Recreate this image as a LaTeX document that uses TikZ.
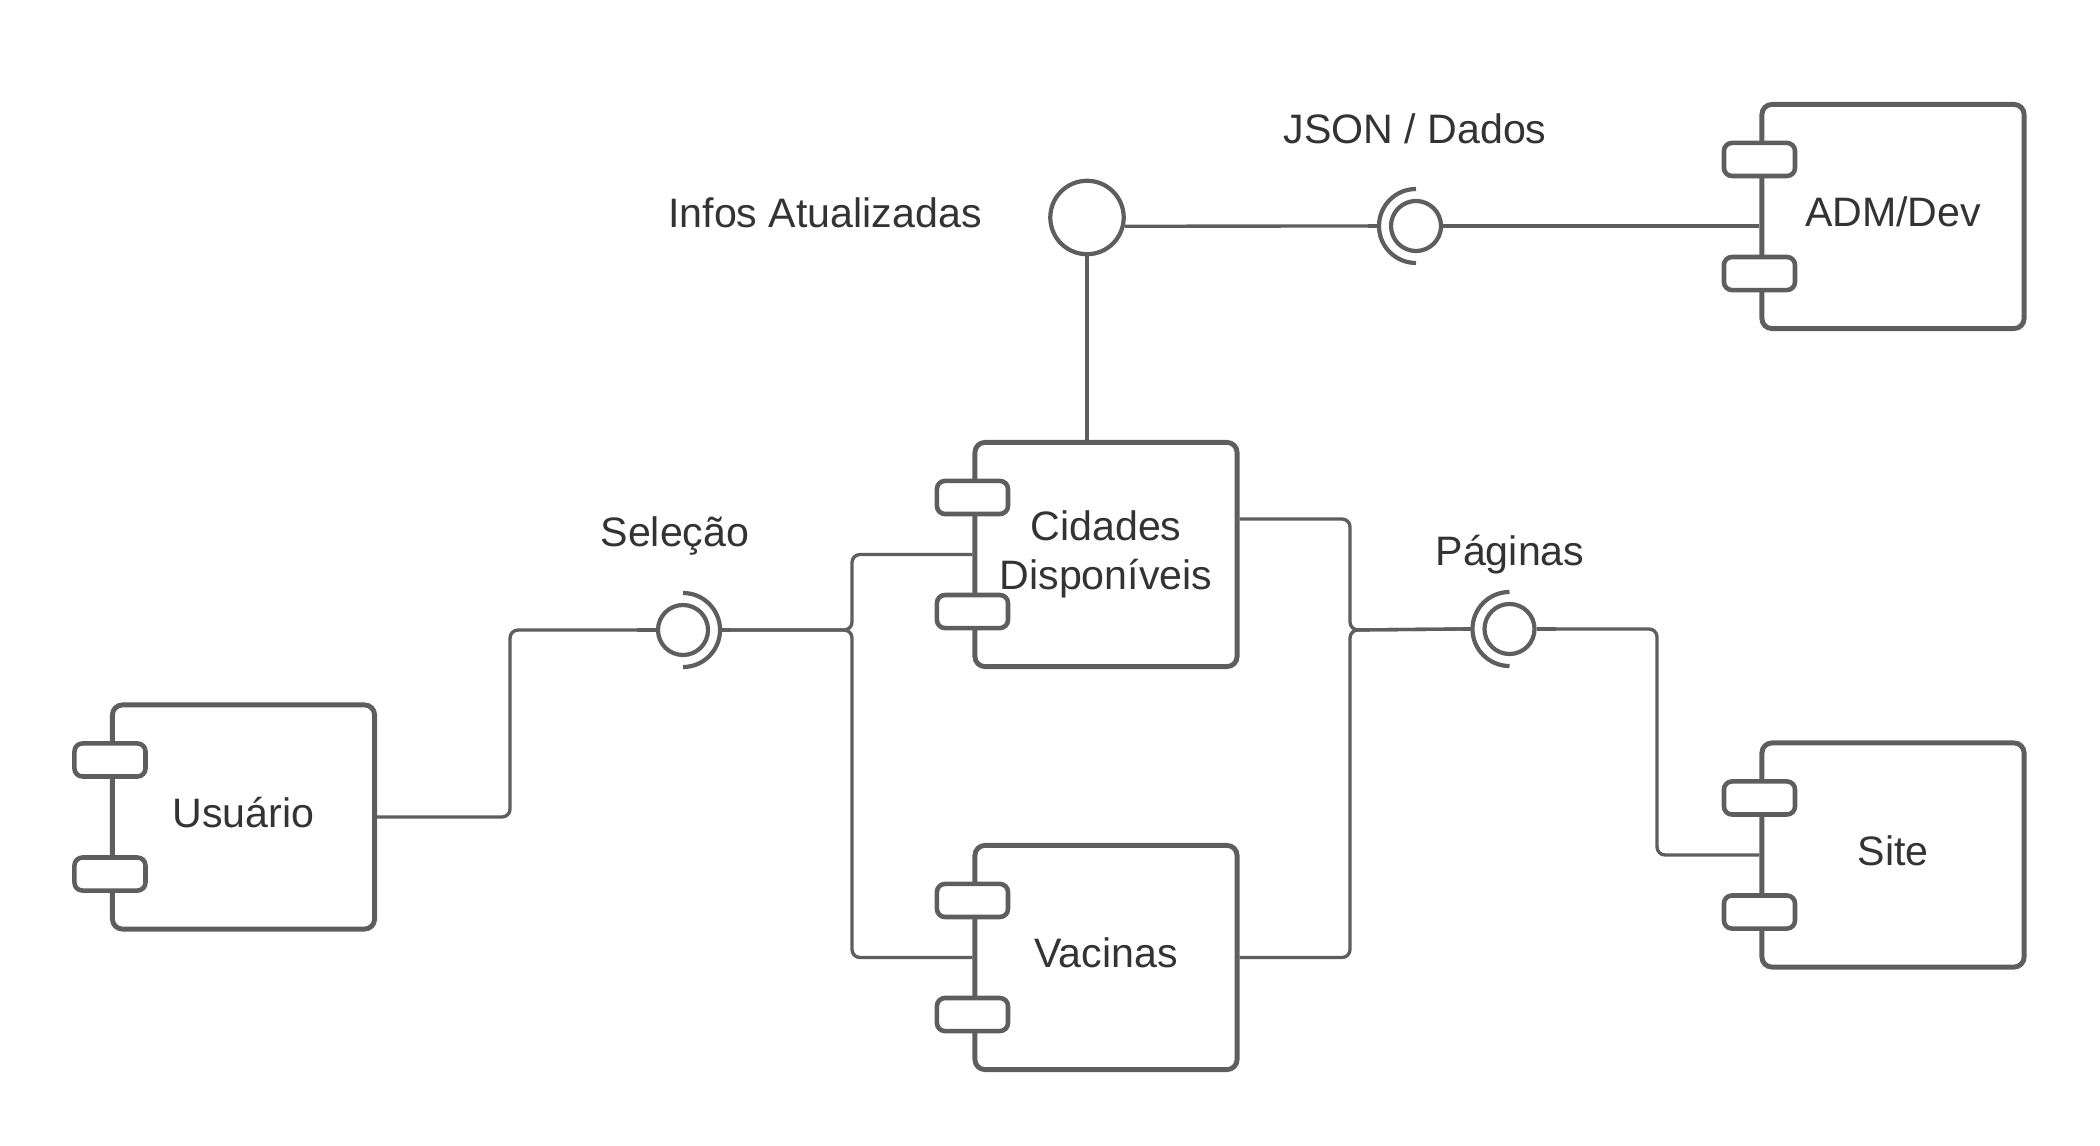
\documentclass[tikz,border=0pt]{standalone}
\usepackage{fontspec}
\setmainfont{Liberation Sans}
\definecolor{umlgray}{HTML}{5E5E5E}
\definecolor{umltext}{HTML}{333333}

\begin{document}
\begin{tikzpicture}[x=0.01cm,y=0.01cm]
        \tikzstyle{every node}+=[inner sep=0pt, text=umltext, font=\fontsize{11.7}{13.9}\selectfont]
        \tikzstyle{comp}=[draw=umlgray, line width=1.4pt, rounded corners=0.1cm, minimum width=2.62cm, minimum height=2.24cm, align=center]
        \tikzstyle{oneline}=[text height=0.3cm, text depth=0.1cm]
        \tikzstyle{port}=[draw=umlgray, fill=white, line width=1.3pt, rounded corners=0.08cm, minimum width=0.71cm, minimum height=0.33cm]
        \tikzstyle{iface}=[draw=umlgray, circle, line width=1.2pt]
        \tikzstyle{socket}=[draw=umlgray, line width=1.2pt]
        \tikzstyle{conn}=[draw=umlgray, line width=0.95pt, rounded corners=0.08cm]
        \tikzstyle{stub}=[draw=umlgray, line width=1.3pt]
        \useasboundingbox (0,0) rectangle (2100,-1146);
        % components
        \node[comp, oneline] (usr) at (243.5,-817) {Usuário};
        \node[comp] (cid) at (1106,-554.5) {Cidades\\Disponíveis};
        \node[comp, oneline] (vac) at (1106,-957.5) {Vacinas};
        \node[comp, oneline] (adm) at (1893,-216.5) {ADM/Dev};
        \node[comp, oneline] (site) at (1893,-855) {Site};
        \node[port] (usr-p1) at ([yshift=0.57cm]usr.west) {};
        \node[port] (usr-p2) at ([yshift=-0.57cm]usr.west) {};
        \node[port] (cid-p1) at ([yshift=0.57cm]cid.west) {};
        \node[port] (cid-p2) at ([yshift=-0.57cm]cid.west) {};
        \node[port] (vac-p1) at ([yshift=0.57cm]vac.west) {};
        \node[port] (vac-p2) at ([yshift=-0.57cm]vac.west) {};
        \node[port] (adm-p1) at ([yshift=0.57cm]adm.west) {};
        \node[port] (adm-p2) at ([yshift=-0.57cm]adm.west) {};
        \node[port] (site-p1) at ([yshift=0.57cm]site.west) {};
        \node[port] (site-p2) at ([yshift=-0.57cm]site.west) {};
        % interfaces
        \node[iface, minimum size=0.734cm] (infos) at (1087,-217.5) {};
        \node[iface, minimum size=0.5cm] (jsonsock) at (1416,-226) {};
        \node[iface, minimum size=0.5cm] (selsock) at (683,-630) {};
        \node[iface, minimum size=0.5cm] (pagsock) at (1509.5,-629) {};
        \draw[socket] ([yshift=0.37cm]jsonsock.center) arc[start angle=90, end angle=270, radius=0.37cm];
        \draw[socket] ([yshift=0.37cm]selsock.center) arc[start angle=90, end angle=-90, radius=0.37cm];
        \draw[socket] ([yshift=0.37cm]pagsock.center) arc[start angle=90, end angle=270, radius=0.37cm];
        \coordinate (jsonL) at ([xshift=-0.48cm]jsonsock.center);
        \coordinate (jsonR) at ([xshift=0.47cm]jsonsock.center);
        \coordinate (selL) at ([xshift=-0.46cm]selsock.center);
        \coordinate (selR) at ([xshift=0.48cm]selsock.center);
        \coordinate (pagL) at ([xshift=-0.465cm]pagsock.center);
        \coordinate (pagR) at ([xshift=0.465cm]pagsock.center);
        \coordinate (jsel) at (852,-630);
        \coordinate (jpag) at (1350,-630);
        \draw[stub] (jsonL) -- ([xshift=-0.37cm]jsonsock.center);
        \draw[stub] (jsonsock.east) -- (jsonR);
        \draw[stub] (selL) -- (selsock.west);
        \draw[stub] ([xshift=0.37cm]selsock.center) -- (selR);
        \draw[stub] (pagL) -- ([xshift=-0.37cm]pagsock.center);
        \draw[stub] (pagsock.east) -- (pagR);
        \draw[stub] (infos.south) -- ++(0,-16);
        % connectors
        \draw[conn] (infos.-13) -- (jsonL);
        \draw[conn] (jsonR) -- (jsonR -| adm.west);
        \draw[conn] (infos.south) -- (infos.south |- cid.north);
        \draw[conn] (usr.east) -- ++(133,0) |- (selL);
        \draw[conn] (selR) -- (jsel) |- (cid.west);
        \draw[conn] (selR) -- (jsel) |- (vac.west);
        \draw[conn] ([yshift=0.355cm]cid.east) -| (jpag) -- (pagL);
        \draw[conn] (vac.east) -| (jpag) -- (pagL);
        \draw[conn] (pagR) -- ++(101,0) |- (site.west);
        % labels
        \node[anchor=base] (infoslbl) at (825,-228) {Infos Atualizadas};
        \node[anchor=base] (jsonlbl) at (1415,-144) {JSON / Dados};
        \node[anchor=base] (sellbl) at (675,-546) {Seleção};
        \node[anchor=base] (paglbl) at (1510,-565) {Páginas};
\end{tikzpicture}
\end{document}
